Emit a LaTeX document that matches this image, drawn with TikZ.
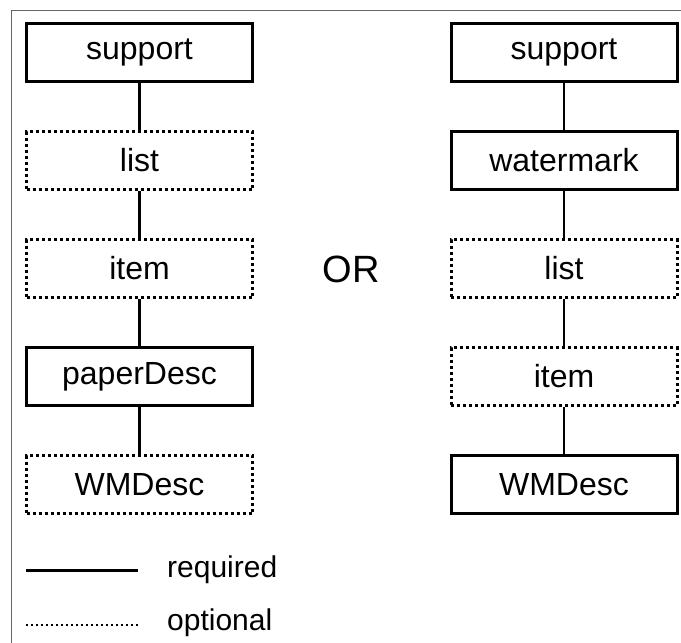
\documentclass[tikz,border=0pt]{standalone}
\usepackage{fontspec}
\setmainfont{Liberation Sans}

\tikzset{
  req/.style={draw,line width=3pt,minimum width=226pt,minimum height=58pt,inner sep=0pt,font=\fontsize{32}{38}\selectfont},
  opt/.style={req,dash pattern=on 3pt off 3pt},
  link/.style={line width=2.5pt},
  legend/.style={anchor=west,inner sep=0pt,font=\fontsize{30}{36}\selectfont},
}

\begin{document}
\begin{tikzpicture}[x=1pt,y=-1pt]
      \useasboundingbox (0,0) rectangle (681,643);
      \draw[black!60,line width=1.5pt] (11.5,643) -- (11.5,10.5) -- (681,10.5);
      % left chain
      \draw
        (139.5,52.5) node[req] (ls){support}
        (139.5,160.5) node[opt] (ll){list}
        (139.5,268.5) node[opt] (li){item}
        (139.5,376.5) node[req] (lp){paperDesc}
        (139.5,484.5) node[opt] (lw){WMDesc};
      % right chain
      \draw
        (564,52.5) node[req] (rs){support}
        (564,160.5) node[req] (rm){watermark}
        (564,268.5) node[opt] (rl){list}
        (564,376.5) node[opt] (ri){item}
        (564,484.5) node[req] (rw){WMDesc};
      \node[font=\fontsize{38}{44}\selectfont] (or) at (351,269) {OR};
      \begin{scope}[link]
        \draw (ls) -- (ll);
        \draw (ll) -- (li);
        \draw (li) -- (lp);
        \draw (lp) -- (lw);
        \draw (rs) -- (rm);
        \draw (rm) -- (rl);
        \draw (rl) -- (ri);
        \draw (ri) -- (rw);
      \end{scope}
      % legend
      \coordinate (reqa) at (26,570);
      \coordinate (reqb) at (138,570);
      \coordinate (opta) at (26,625);
      \coordinate (optb) at (138,625);
      \draw[line width=3pt] (reqa) -- (reqb);
      \draw[line width=2pt,dash pattern=on 2pt off 3pt] (opta) -- (optb);
      \node[legend] (reqt) at (167,570) {required};
      \node[legend] (optt) at (167,623) {optional};
    \end{tikzpicture}
\end{document}
